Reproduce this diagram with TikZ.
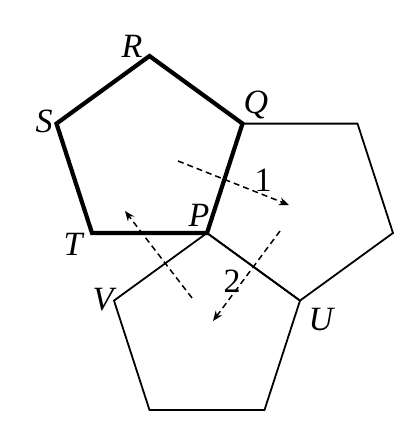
\documentclass[tikz,border=0pt]{standalone}
\usepackage{fontspec}
\setmainfont{Liberation Serif}
\usetikzlibrary{arrows.meta}
\begin{document}
\begin{tikzpicture}[x=1pt,y=-1pt,
  thin edge/.style={line width=1.8pt,line join=miter},
  bold edge/.style={line width=4.2pt,line join=miter},
  move/.style={dashed,dash pattern=on 6pt off 4pt,line width=1.5pt,-{Stealth[length=10pt,width=8pt]}},
  lbl/.style={font=\fontsize{34}{36}\selectfont\itshape,inner sep=0pt},
  num/.style={font=\fontsize{34}{36}\selectfont,inner sep=0pt}]
\useasboundingbox (0,0) rectangle (420,434);
% vertices
\coordinate (T) at (92,233);
\coordinate (P) at (207,233);
\coordinate (Q) at (242.5,123.6);
\coordinate (R) at (149.5,56);
\coordinate (S) at (56.5,123.6);
\coordinate (Q2) at (357.5,123.6);
\coordinate (W) at (393,233);
\coordinate (U) at (300,300.6);
\coordinate (B2) at (264.5,410);
\coordinate (B1) at (149.5,410);
\coordinate (V) at (114,300.6);
% thin pentagons
\draw[thin edge] (Q) -- (Q2) -- (W) -- (U) -- (P);
\draw[thin edge] (P) -- (U) -- (B2) -- (B1) -- (V) -- cycle;
% bold pentagon
\draw[bold edge] (T) -- (P) -- (Q) -- (R) -- (S) -- cycle;
% arrows
\coordinate (a1s) at (178,161);
\coordinate (a1e) at (289,205);
\coordinate (a2s) at (280,231);
\coordinate (a2e) at (213,321);
\coordinate (a3s) at (192,298);
\coordinate (a3e) at (125,211);
\draw[move] (a1s) -- (a1e);
\draw[move] (a2s) -- (a2e);
\draw[move] (a3s) -- (a3e);
% labels
\node[lbl] (lR) at (132,46) {R};
\node[lbl] (lS) at (44,121) {S};
\node[lbl] (lQ) at (256,105) {Q};
\node[lbl] (lT) at (73,244) {T};
\node[lbl] (lP) at (199,215) {P};
\node[lbl] (lV) at (103,300) {V};
\node[lbl] (lU) at (321,320) {U};
\node[num] (n1) at (263,180) {1};
\node[num] (n2) at (232,281) {2};
\end{tikzpicture}
\end{document}
